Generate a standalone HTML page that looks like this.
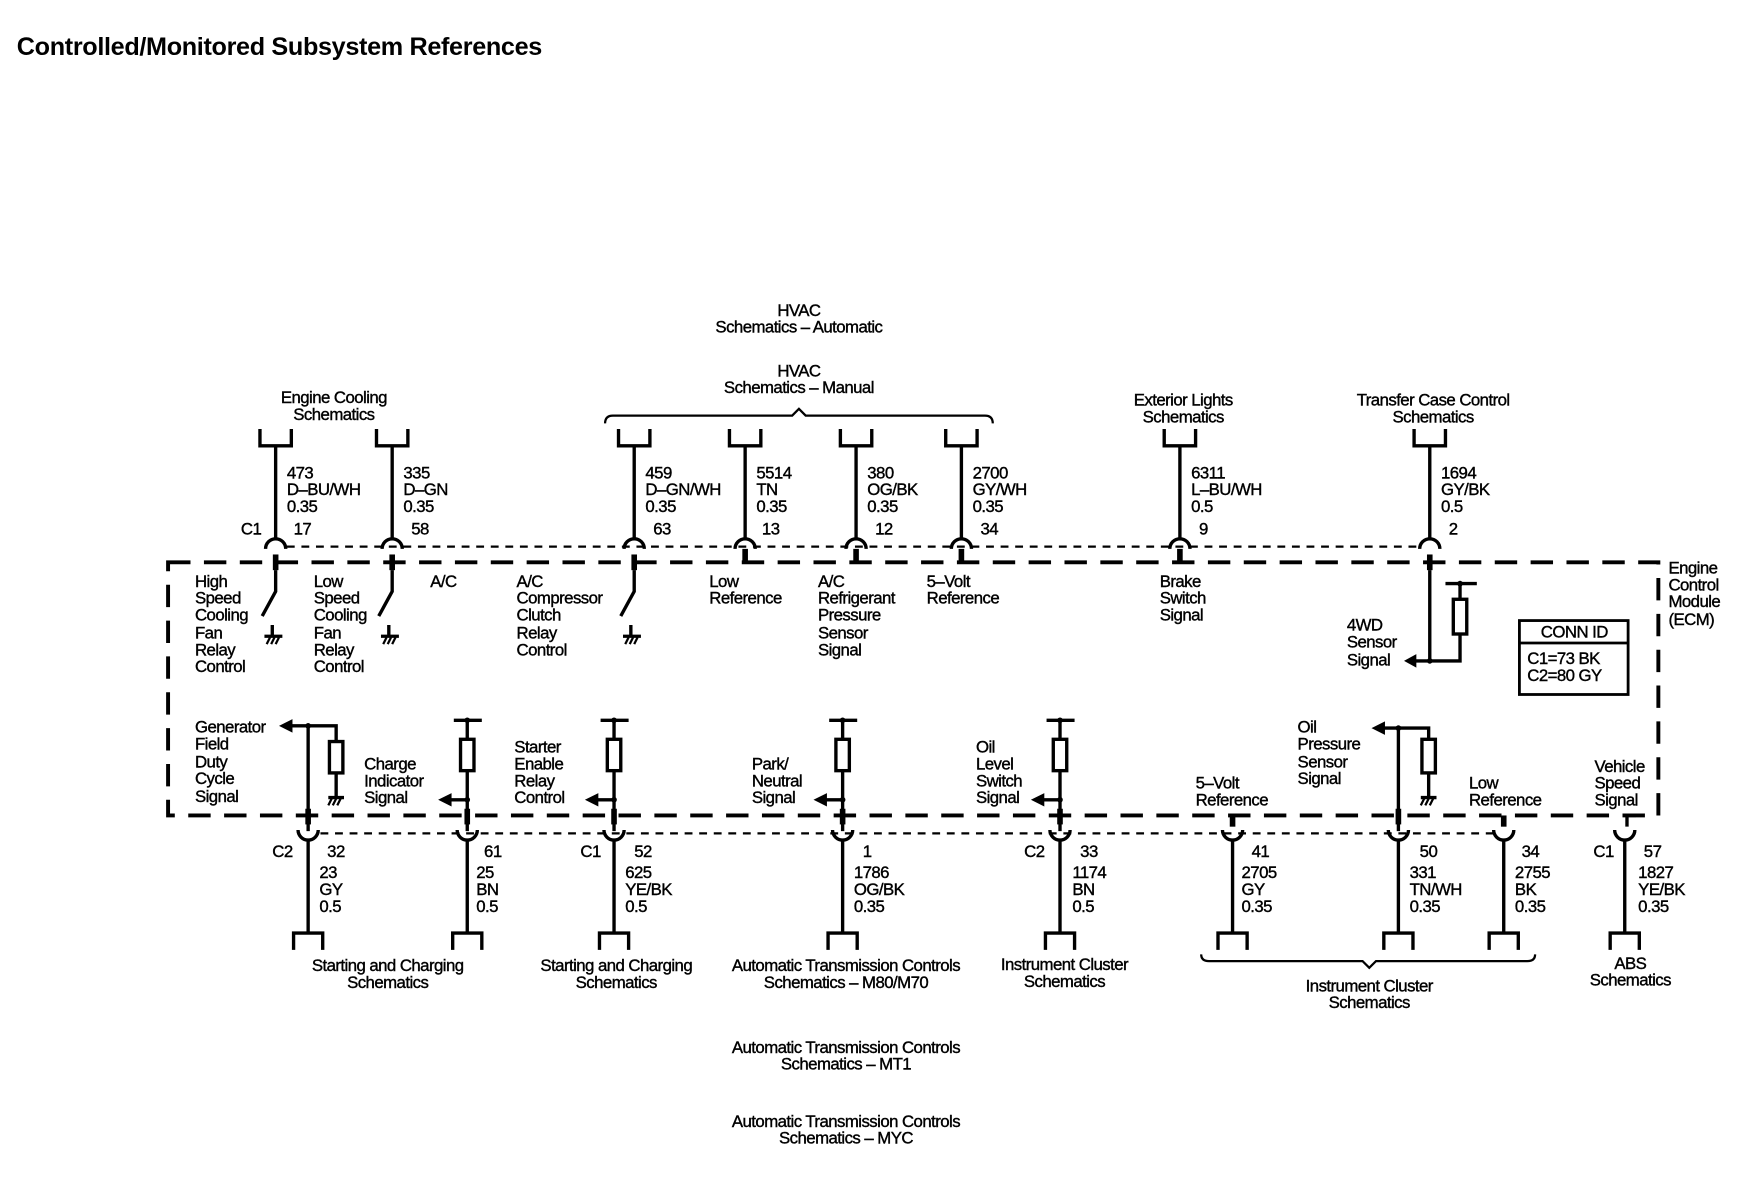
<!DOCTYPE html>
<html><head><meta charset="utf-8"><style>
html,body{margin:0;padding:0;background:#fff;}
svg{display:block;}
text{font-family:"Liberation Sans",Arial,sans-serif;font-size:15px;fill:#000;stroke:#000;stroke-width:0.35px;letter-spacing:-0.5px;}
.c{text-anchor:middle;}
.w{stroke:#000;stroke-width:3;fill:none;}
.t{stroke:#000;stroke-width:2;fill:none;}
</style></head><body>
<svg width="1748" height="1184" viewBox="0 0 1560 1057" preserveAspectRatio="none" xmlns="http://www.w3.org/2000/svg">
<rect width="1560" height="1057" fill="#fff"/>
<text x="15" y="49" style="font-size:22.5px;font-weight:bold;letter-spacing:-0.3px;stroke-width:0">Controlled/Monitored Subsystem References</text>

<path d="M150 502 H1480 V728 H150 Z" stroke="#000" stroke-width="3.5" fill="none" stroke-dasharray="20 12"/>
<path d="M256 488 H1266" stroke="#000" stroke-width="2" stroke-dasharray="7 6" fill="none"/>
<path d="M286 744 H1336" stroke="#000" stroke-width="2" stroke-dasharray="7 6" fill="none"/>

<text x="298" y="360" class="c">Engine Cooling</text><text x="298" y="375" class="c">Schematics</text>
<text x="713" y="282" class="c">HVAC</text><text x="713" y="297" class="c">Schematics – Automatic</text>
<text x="713" y="336" class="c">HVAC</text><text x="713" y="351" class="c">Schematics – Manual</text>
<path class="t" d="M540 378 Q540 371 547 371 H707 L713 365 L719 371 H879 Q886 371 886 378"/>
<text x="1056" y="362" class="c">Exterior Lights</text><text x="1056" y="377" class="c">Schematics</text>
<text x="1279" y="362" class="c">Transfer Case Control</text><text x="1279" y="377" class="c">Schematics</text>

<g class="w">
<path d="M232 383 V398 H260 V383 M246 398 V481"/>
<path d="M336 383 V398 H364 V383 M350 398 V481"/>
<path d="M552 383 V398 H580 V383 M566 398 V481"/>
<path d="M651 383 V398 H679 V383 M665 398 V481"/>
<path d="M750 383 V398 H778 V383 M764 398 V481"/>
<path d="M844 383 V398 H872 V383 M858 398 V481"/>
<path d="M1039 383 V398 H1067 V383 M1053 398 V481"/>
<path d="M1262 383 V398 H1290 V383 M1276 398 V481"/>
<path d="M237 490 A9 9 0 0 1 255 490 M341 490 A9 9 0 0 1 359 490 M557 490 A9 9 0 0 1 575 490 M656 490 A9 9 0 0 1 674 490 M755 490 A9 9 0 0 1 773 490 M849 490 A9 9 0 0 1 867 490 M1044 490 A9 9 0 0 1 1062 490 M1267 490 A9 9 0 0 1 1285 490"/>
</g>
<g fill="#000">
<rect x="243.5" y="495" width="5" height="14"/><rect x="347.5" y="495" width="5" height="14"/>
<rect x="563.5" y="495" width="5" height="14"/><rect x="662.5" y="490" width="5" height="12"/>
<rect x="761.5" y="490" width="5" height="12"/><rect x="855.5" y="490" width="5" height="12"/>
<rect x="1050.5" y="490" width="5" height="12"/><rect x="1273.5" y="495" width="5" height="14"/>
</g>
<text x="256" y="427">473</text><text x="256" y="442">D–BU/WH</text><text x="256" y="457">0.35</text>
<text x="360" y="427">335</text><text x="360" y="442">D–GN</text><text x="360" y="457">0.35</text>
<text x="576" y="427">459</text><text x="576" y="442">D–GN/WH</text><text x="576" y="457">0.35</text>
<text x="675" y="427">5514</text><text x="675" y="442">TN</text><text x="675" y="457">0.35</text>
<text x="774" y="427">380</text><text x="774" y="442">OG/BK</text><text x="774" y="457">0.35</text>
<text x="868" y="427">2700</text><text x="868" y="442">GY/WH</text><text x="868" y="457">0.35</text>
<text x="1063" y="427">6311</text><text x="1063" y="442">L–BU/WH</text><text x="1063" y="457">0.5</text>
<text x="1286" y="427">1694</text><text x="1286" y="442">GY/BK</text><text x="1286" y="457">0.5</text>
<text x="215" y="477">C1</text>
<text x="262" y="477">17</text><text x="367" y="477">58</text><text x="583" y="477">63</text><text x="680" y="477">13</text>
<text x="781" y="477">12</text><text x="875" y="477">34</text><text x="1070" y="477">9</text><text x="1293" y="477">2</text>

<g class="w">
<path d="M246 509 V528 L234 550"/><path d="M243 558 V568 M236 568 H252"/>
<path d="M350 509 V528 L338 550"/><path d="M347 558 V568 M340 568 H356"/>
<path d="M566 509 V528 L554 550"/><path d="M563 558 V568 M556 568 H572"/>
<path d="M1276 509 V590 H1262 M1276 590 H1303 V566 M1303 535 V521 M1290 521 H1318"/>
</g>
<g class="t"><path d="M238 575 L241 569 M242 575 L245 569 M246 575 L249 569"/><path d="M342 575 L345 569 M346 575 L349 569 M350 575 L353 569"/><path d="M558 575 L561 569 M562 575 L565 569 M566 575 L569 569"/></g>
<rect x="1297" y="535" width="12" height="31" class="w"/>
<path d="M1253 590 L1264 584 L1264 596 Z" fill="#000"/>
<circle cx="1276" cy="590" r="2.5"/><circle cx="1303" cy="521" r="2.5"/>

<text x="174" y="524">High</text><text x="174" y="539">Speed</text><text x="174" y="554">Cooling</text><text x="174" y="570">Fan</text><text x="174" y="585">Relay</text><text x="174" y="600">Control</text>
<text x="280" y="524">Low</text><text x="280" y="539">Speed</text><text x="280" y="554">Cooling</text><text x="280" y="570">Fan</text><text x="280" y="585">Relay</text><text x="280" y="600">Control</text>
<text x="384" y="524">A/C</text>
<text x="461" y="524">A/C</text><text x="461" y="539">Compressor</text><text x="461" y="554">Clutch</text><text x="461" y="570">Relay</text><text x="461" y="585">Control</text>
<text x="633" y="524">Low</text><text x="633" y="539">Reference</text>
<text x="730" y="524">A/C</text><text x="730" y="539">Refrigerant</text><text x="730" y="554">Pressure</text><text x="730" y="570">Sensor</text><text x="730" y="585">Signal</text>
<text x="827" y="524">5–Volt</text><text x="827" y="539">Reference</text>
<text x="1035" y="524">Brake</text><text x="1035" y="539">Switch</text><text x="1035" y="554">Signal</text>
<text x="1202" y="563">4WD</text><text x="1202" y="578">Sensor</text><text x="1202" y="594">Signal</text>
<text x="1489" y="512">Engine</text><text x="1489" y="527">Control</text><text x="1489" y="542">Module</text><text x="1489" y="558">(ECM)</text>

<rect x="1356" y="554" width="97" height="66" fill="none" stroke="#000" stroke-width="2.5"/>
<path d="M1356 574 H1453" stroke="#000" stroke-width="2.5"/>
<text x="1405" y="569" class="c">CONN ID</text>
<text x="1363" y="593">C1=73 BK</text><text x="1363" y="608">C2=80 GY</text>

<g class="w">
<path d="M275 648 V742 M275 648 H260 M275 648 H300 V662 M300 690 V712 M293 712 H307"/>
<path d="M405 643 H430 M417 643 V660 M417 688 V742 M417 714 H402"/>
<path d="M536 643 H561 M548 643 V660 M548 688 V742 M548 714 H533"/>
<path d="M740 643 H765 M752 643 V660 M752 688 V742 M752 714 H737"/>
<path d="M934 643 H959 M946 643 V660 M946 688 V742 M946 714 H931"/>
<path d="M1248 650 V742 M1248 650 H1235 M1248 650 H1275 V660 M1275 690 V712 M1268 712 H1282"/>
</g>
<g class="t"><path d="M293 719 L296 713 M297 719 L300 713 M301 719 L304 713"/><path d="M1268 719 L1271 713 M1272 719 L1275 713 M1276 719 L1279 713"/></g>
<g class="w" stroke-width="2.8">
<rect x="294" y="662" width="12" height="28"/><rect x="411" y="660" width="12" height="28"/>
<rect x="542" y="660" width="12" height="28"/><rect x="746" y="660" width="12" height="28"/>
<rect x="940" y="660" width="12" height="28"/><rect x="1269" y="660" width="12" height="30"/>
</g>
<g fill="#000">
<path d="M249 648 L261 642 L261 654 Z"/><path d="M391 714 L403 708 L403 720 Z"/>
<path d="M522 714 L534 708 L534 720 Z"/><path d="M726 714 L738 708 L738 720 Z"/>
<path d="M920 714 L932 708 L932 720 Z"/><path d="M1224 650 L1236 644 L1236 656 Z"/>
<circle cx="275" cy="648" r="2.5"/><circle cx="417" cy="643" r="2.5"/><circle cx="417" cy="714" r="2.5"/>
<circle cx="548" cy="643" r="2.5"/><circle cx="548" cy="714" r="2.5"/><circle cx="752" cy="643" r="2.5"/><circle cx="752" cy="714" r="2.5"/>
<circle cx="946" cy="643" r="2.5"/><circle cx="946" cy="714" r="2.5"/><circle cx="1248" cy="650" r="2.5"/>
<rect x="272.5" y="722" width="5" height="14"/><rect x="414.5" y="722" width="5" height="14"/><rect x="545.5" y="722" width="5" height="14"/>
<rect x="749.5" y="722" width="5" height="14"/><rect x="943.5" y="722" width="5" height="14"/><rect x="1245.5" y="722" width="5" height="14"/>
<rect x="1097.5" y="728" width="5" height="10"/><rect x="1339.5" y="728" width="5" height="10"/>
</g>
<path class="w" d="M1460 728 H1452 V738"/>

<text x="174" y="654">Generator</text><text x="174" y="669">Field</text><text x="174" y="685">Duty</text><text x="174" y="700">Cycle</text><text x="174" y="716">Signal</text>
<text x="325" y="687">Charge</text><text x="325" y="702">Indicator</text><text x="325" y="717">Signal</text>
<text x="459" y="672">Starter</text><text x="459" y="687">Enable</text><text x="459" y="702">Relay</text><text x="459" y="717">Control</text>
<text x="671" y="687">Park/</text><text x="671" y="702">Neutral</text><text x="671" y="717">Signal</text>
<text x="871" y="672">Oil</text><text x="871" y="687">Level</text><text x="871" y="702">Switch</text><text x="871" y="717">Signal</text>
<text x="1067" y="704">5–Volt</text><text x="1067" y="719">Reference</text>
<text x="1158" y="654">Oil</text><text x="1158" y="669">Pressure</text><text x="1158" y="685">Sensor</text><text x="1158" y="700">Signal</text>
<text x="1311" y="704">Low</text><text x="1311" y="719">Reference</text>
<text x="1423" y="689">Vehicle</text><text x="1423" y="704">Speed</text><text x="1423" y="719">Signal</text>

<g class="w">
<path d="M266 741 A9 9 0 0 0 284 741 M408 741 A9 9 0 0 0 426 741 M539 741 A9 9 0 0 0 557 741 M743 741 A9 9 0 0 0 761 741 M937 741 A9 9 0 0 0 955 741 M1091 741 A9 9 0 0 0 1109 741 M1239 741 A9 9 0 0 0 1257 741 M1333 741 A9 9 0 0 0 1351 741 M1441 741 A9 9 0 0 0 1459 741"/>
<path d="M275 750 V833 M262 848 V833 H288 V848"/>
<path d="M417 750 V833 M404 848 V833 H430 V848"/>
<path d="M548 750 V833 M535 848 V833 H561 V848"/>
<path d="M752 750 V833 M739 848 V833 H765 V848"/>
<path d="M946 750 V833 M933 848 V833 H959 V848"/>
<path d="M1100 750 V833 M1087 848 V833 H1113 V848"/>
<path d="M1248 750 V833 M1235 848 V833 H1261 V848"/>
<path d="M1342 750 V833 M1329 848 V833 H1355 V848"/>
<path d="M1450 750 V833 M1437 848 V833 H1463 V848"/>
</g>
<text x="243" y="765">C2</text><text x="518" y="765">C1</text><text x="914" y="765">C2</text><text x="1422" y="765">C1</text>
<text x="292" y="765">32</text><text x="432" y="765">61</text><text x="566" y="765">52</text><text x="770" y="765">1</text>
<text x="964" y="765">33</text><text x="1117" y="765">41</text><text x="1267" y="765">50</text><text x="1358" y="765">34</text><text x="1467" y="765">57</text>
<text x="285" y="784">23</text><text x="285" y="799">GY</text><text x="285" y="814">0.5</text>
<text x="425" y="784">25</text><text x="425" y="799">BN</text><text x="425" y="814">0.5</text>
<text x="558" y="784">625</text><text x="558" y="799">YE/BK</text><text x="558" y="814">0.5</text>
<text x="762" y="784">1786</text><text x="762" y="799">OG/BK</text><text x="762" y="814">0.35</text>
<text x="957" y="784">1174</text><text x="957" y="799">BN</text><text x="957" y="814">0.5</text>
<text x="1108" y="784">2705</text><text x="1108" y="799">GY</text><text x="1108" y="814">0.35</text>
<text x="1258" y="784">331</text><text x="1258" y="799">TN/WH</text><text x="1258" y="814">0.35</text>
<text x="1352" y="784">2755</text><text x="1352" y="799">BK</text><text x="1352" y="814">0.35</text>
<text x="1462" y="784">1827</text><text x="1462" y="799">YE/BK</text><text x="1462" y="814">0.35</text>

<text x="346" y="867" class="c">Starting and Charging</text><text x="346" y="882" class="c">Schematics</text>
<text x="550" y="867" class="c">Starting and Charging</text><text x="550" y="882" class="c">Schematics</text>
<text x="755" y="867" class="c">Automatic Transmission Controls</text><text x="755" y="882" class="c">Schematics – M80/M70</text>
<text x="950" y="866" class="c">Instrument Cluster</text><text x="950" y="881" class="c">Schematics</text>
<path class="t" d="M1072 852 Q1072 858 1079 858 H1216 L1222 864 L1228 858 H1363 Q1370 858 1370 852"/>
<text x="1222" y="885" class="c">Instrument Cluster</text><text x="1222" y="900" class="c">Schematics</text>
<text x="1455" y="865" class="c">ABS</text><text x="1455" y="880" class="c">Schematics</text>
<text x="755" y="940" class="c">Automatic Transmission Controls</text><text x="755" y="955" class="c">Schematics – MT1</text>
<text x="755" y="1006" class="c">Automatic Transmission Controls</text><text x="755" y="1021" class="c">Schematics – MYC</text>
</svg>
</body></html>
